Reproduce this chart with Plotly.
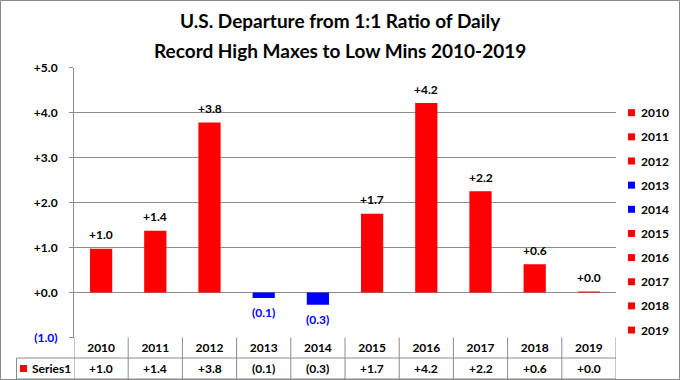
import plotly.graph_objects as go

years = ["2010", "2011", "2012", "2013", "2014", "2015", "2016", "2017", "2018", "2019"]
values = [0.97, 1.37, 3.78, -0.12, -0.27, 1.75, 4.21, 2.25, 0.63, 0.02]
labels = ["+1.0", "+1.4", "+3.8", "(0.1)", "(0.3)", "+1.7", "+4.2", "+2.2", "+0.6", "+0.0"]
ytick_vals = [-1, 0, 1, 2, 3, 4, 5]
ytick_text = ["<span style='color:#0000FF'>(1.0)</span>", "+0.0", "+1.0", "+2.0", "+3.0", "+4.0", "+5.0"]
title_lines = ["U.S. Departure from 1:1 Ratio of Daily", "Record High Maxes to Low Mins 2010-2019"]
series_name = "Series1"

FONT = "Lato"
GRID = "#8C8C8C"
RED, BLUE = "#FF0000", "#0000FF"
W, H = 680, 380
L, R, T, B = 74, 616, 67.5, 337.5


def fx(p):
    return p / W


def fy(p):
    return (H - p) / H


def bold(size, color="black"):
    return dict(family=FONT, size=size, color=color, weight="bold")


colors = [BLUE if v < 0 else RED for v in values]

fig = go.Figure()
fig.add_trace(go.Bar(
    x=years, y=values, name=series_name, width=0.41,
    marker=dict(color=colors, line=dict(width=0)),
    showlegend=False, hoverinfo="x+y",
))

shapes = []
annotations = []

# bar value labels (category axis -> use category index)
for i, (v, lab) in enumerate(zip(values, labels)):
    neg = v < 0
    annotations.append(dict(x=i, y=v, xref="x", yref="y", text=lab, showarrow=False,
                            xanchor="center", yanchor="middle", yshift=(-15 if neg else 14),
                            font=bold(12, BLUE if neg else "black")))

# data table grid
ybot = fy(379)
for k in range(11):
    shapes.append(dict(type="line", xref="x", yref="paper", x0=k - 0.5, x1=k - 0.5,
                       y0=ybot, y1=fy(B), line=dict(color=GRID, width=1)))
shapes.append(dict(type="line", xref="paper", yref="paper", x0=fx(16.5), x1=fx(R),
                   y0=fy(358), y1=fy(358), line=dict(color=GRID, width=1)))
shapes.append(dict(type="line", xref="paper", yref="paper", x0=fx(16.5), x1=fx(16.5),
                   y0=ybot, y1=fy(358), line=dict(color=GRID, width=1)))
shapes.append(dict(type="line", xref="paper", yref="paper", x0=fx(16.5), x1=fx(R),
                   y0=ybot, y1=ybot, line=dict(color=GRID, width=1)))
shapes.append(dict(type="rect", xref="paper", yref="paper", x0=fx(20), x1=fx(27),
                   y0=fy(372), y1=fy(365), fillcolor=RED, line=dict(width=0)))
for i, lab in enumerate(labels):
    annotations.append(dict(x=i, y=fy(368.5), xref="x", yref="paper", text=lab,
                            xanchor="center", yanchor="middle", showarrow=False, font=bold(12)))
annotations.append(dict(x=fx(30), y=fy(368.5), xref="paper", yref="paper", text=series_name,
                        xanchor="left", yanchor="middle", showarrow=False, font=bold(12)))

# legend (one entry per category, coloured like its bar)
for i, (yr, c) in enumerate(zip(years, colors)):
    yc = 112.7 + 24.15 * i
    shapes.append(dict(type="rect", xref="paper", yref="paper", x0=fx(628), x1=fx(635),
                       y0=fy(yc + 3.5), y1=fy(yc - 3.5), fillcolor=c, line=dict(width=0)))
    annotations.append(dict(x=fx(638.5), y=fy(yc), xref="paper", yref="paper", text=yr,
                            xanchor="left", yanchor="middle", showarrow=False, font=bold(12)))

# title
for t, yy in zip(title_lines, [21, 51]):
    annotations.append(dict(x=0.5, y=fy(yy), xref="paper", yref="paper", text=t,
                            xanchor="center", yanchor="middle", showarrow=False, font=bold(19)))

# outer border
shapes.append(dict(type="rect", xref="paper", yref="paper", x0=fx(0.5), x1=fx(679.5),
                   y0=fy(379.5), y1=fy(0.5), line=dict(color="#888888", width=1)))

fig.update_layout(
    width=W, height=H,
    margin=dict(l=0, r=0, t=0, b=0, pad=0),
    paper_bgcolor="white", plot_bgcolor="white",
    showlegend=False,
    xaxis=dict(type="category", domain=[fx(L), fx(R)], range=[-0.5, 9.5],
               showgrid=False, showline=False, zeroline=False, ticks="",
               tickfont=bold(12), ticklabelstandoff=1, automargin=False, fixedrange=True),
    yaxis=dict(domain=[fy(B), fy(T)], range=[-1, 5], tickvals=ytick_vals, ticktext=ytick_text,
               showgrid=True, gridcolor=GRID, gridwidth=1, zeroline=False,
               showline=True, linecolor=GRID, linewidth=1,
               ticks="outside", ticklen=4, tickcolor=GRID, ticklabelstandoff=9,
               tickfont=bold(12), automargin=False, fixedrange=True),
    shapes=shapes, annotations=annotations,
    font=dict(family=FONT),
)

fig.write_html("out.html", config={"displayModeBar": False},
               post_script="document.body.style.margin='0';")
